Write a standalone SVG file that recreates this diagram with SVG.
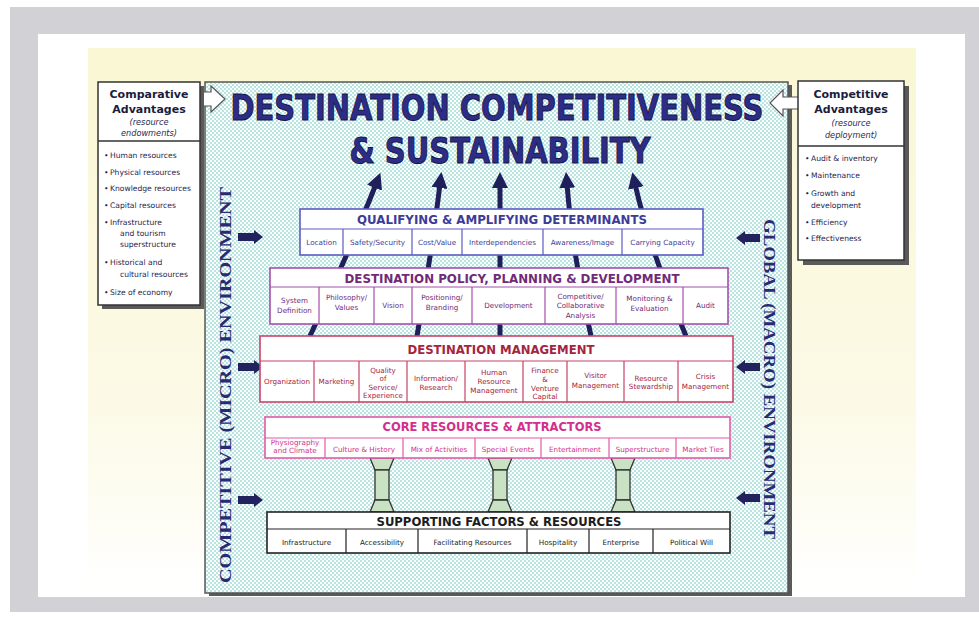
<svg xmlns="http://www.w3.org/2000/svg" width="979" height="634" viewBox="0 0 979 634">
  <defs>
    <pattern id="dots" width="4" height="4" patternUnits="userSpaceOnUse">
      <rect width="4" height="4" fill="#fbfefe"/>
      <rect x="0" y="0" width="2" height="2" fill="#b9e4e0"/>
      <rect x="2" y="2" width="2" height="2" fill="#b9e4e0"/>
    </pattern>
    <linearGradient id="panel" x1="0" y1="0" x2="0" y2="1">
      <stop offset="0" stop-color="#faf7d4"/>
      <stop offset="0.65" stop-color="#fcfae6"/>
      <stop offset="1" stop-color="#ffffff"/>
    </linearGradient>
    <marker id="head" markerUnits="userSpaceOnUse" viewBox="0 0 16 16" markerWidth="16" markerHeight="16" refX="4" refY="8" orient="auto">
      <path d="M0,0 L16,8 L0,16 z" fill="#1f1f5c"/>
    </marker>
    <g id="pillar">
      <path d="M-12,0 L12,0 L7,12 L-7,12 z"/>
      <rect x="-7" y="12" width="14" height="30"/>
      <path d="M-7,42 L7,42 L12,54 L-12,54 z"/>
    </g>
  </defs>
  <style>
    .cell { font-family: "DejaVu Sans", "Liberation Sans", sans-serif; font-size: 7.2px; text-anchor: middle; }
    .hdr { font-family: "DejaVu Sans", "Liberation Sans", sans-serif; font-weight: bold; font-size: 12px; text-anchor: middle; }
    .q { fill: #3c3c98; } .qs { stroke: #5c5cc4; }
    .p { fill: #702a78; } .ps { stroke: #a450ac; }
    .m { fill: #a5243e; } .ms { stroke: #c84468; }
    .c { fill: #d2308c; } .cs { stroke: #e25aaa; }
    .s { fill: #1c1c1c; } .ss { stroke: #222222; }
    .box { fill: #ffffff; stroke-width: 1.6; }
    .div { stroke-width: 1.2; fill: none; }
    .fan { fill: none; stroke: #1f1f5c; stroke-width: 5; marker-end: url(#head); }
    .side { fill: #22225e; }
    .vtxt { font-family: "Liberation Serif", serif; font-weight: bold; font-size: 16px; fill: #2a2a72; text-anchor: middle; }
    .stitle { font-family: "DejaVu Sans", "Liberation Sans", sans-serif; font-weight: bold; font-size: 11px; fill: #1c1c3c; text-anchor: middle; }
    .sital { font-family: "DejaVu Sans", "Liberation Sans", sans-serif; font-style: italic; font-size: 8.2px; fill: #2a2a50; text-anchor: middle; }
    .bul { font-family: "DejaVu Sans", "Liberation Sans", sans-serif; font-size: 7.6px; fill: #24244e; }
    .pil { fill: #c9e2c3; stroke: #333333; stroke-width: 1.3; }
    .ttl { font-family: "DejaVu Sans", "Liberation Sans", sans-serif; font-weight: bold; font-size: 29px; fill: #2d2d88; stroke: #16164a; stroke-width: 0.8; text-anchor: middle; }
  </style>

  <!-- page frame -->
  <rect x="0" y="0" width="979" height="634" fill="#ffffff"/>
  <rect x="10" y="7" width="969" height="605" fill="#d2d2d6"/>
  <rect x="38" y="34" width="927" height="563" fill="#ffffff"/>
  <rect x="88" y="48" width="828" height="549" fill="url(#panel)"/>

  <!-- main field -->
  <g id="field">
    <rect x="209" y="85" width="583" height="511" fill="#5a5a5a"/>
    <rect x="205" y="82" width="583" height="511" fill="url(#dots)" stroke="#555555" stroke-width="1.5"/>
  </g>

  <!-- connectors: fan of arrows rising to the title -->
  <g id="connectors">
    <path class="fan" d="M310,336 Q350,250 376,184"/>
    <path class="fan" d="M417,336 Q432,250 440,184"/>
    <path class="fan" d="M500,336 L500,184"/>
    <path class="fan" d="M591,336 Q572,250 567,184"/>
    <path class="fan" d="M686,336 Q650,250 635,184"/>
    <!-- environment arrows -->
    <path class="side" d="M238,233 L254,233 L254,230 L263,237 L254,244 L254,241 L238,241 z"/>
    <path class="side" d="M238,363 L254,363 L254,360 L263,367 L254,374 L254,371 L238,371 z"/>
    <path class="side" d="M238,496 L254,496 L254,493 L263,500 L254,507 L254,504 L238,504 z"/>
    <path class="side" d="M760,234 L745,234 L745,231 L736,238 L745,245 L745,242 L760,242 z"/>
    <path class="side" d="M760,363 L745,363 L745,360 L736,367 L745,374 L745,371 L760,371 z"/>
    <path class="side" d="M760,494 L745,494 L745,491 L736,498 L745,505 L745,502 L760,502 z"/>
    <!-- pillars between supporting factors and core resources -->
    <use href="#pillar" class="pil" x="382" y="458"/>
    <use href="#pillar" class="pil" x="500" y="458"/>
    <use href="#pillar" class="pil" x="623" y="458"/>
    <!-- hollow arrows from the side boxes -->
    <path d="M193,92 L211,92 L211,86 L225,99 L211,112 L211,106 L193,106 z" fill="#ffffff" stroke="#555555" stroke-width="1.2"/>
    <path d="M800,97 L783,97 L783,90 L770,103 L783,116 L783,109 L800,109 z" fill="#ffffff" stroke="#555555" stroke-width="1.2"/>
  </g>

  <!-- title -->
  <g id="title">
    <text class="ttl" transform="translate(497,120) scale(1,1.25)">DESTINATION COMPETITIVENESS</text>
    <text class="ttl" transform="translate(500,163) scale(1,1.25)">&amp; SUSTAINABILITY</text>
  </g>

  <!-- environment labels -->
  <g id="env-left">
    <text class="vtxt" transform="translate(231,385) rotate(-90)" textLength="396" lengthAdjust="spacingAndGlyphs">COMPETITIVE (MICRO) ENVIRONMENT</text>
  </g>
  <g id="env-right">
    <text class="vtxt" transform="translate(764,379) rotate(90)" textLength="320" lengthAdjust="spacingAndGlyphs">GLOBAL (MACRO) ENVIRONMENT</text>
  </g>

  <!-- qualifying & amplifying determinants -->
  <g id="qualifying">
    <rect class="box qs" x="300" y="209" width="403" height="46"/>
    <path class="div qs" d="M300,229 H703 M343,229 V255 M412,229 V255 M462,229 V255 M543,229 V255 M622,229 V255"/>
    <text class="hdr q" x="502" y="224" textLength="290" lengthAdjust="spacingAndGlyphs">QUALIFYING &amp; AMPLIFYING DETERMINANTS</text>
    <g class="cell q">
      <text x="321.5" y="245">Location</text>
      <text x="377.5" y="245">Safety/Security</text>
      <text x="437" y="245">Cost/Value</text>
      <text x="502.5" y="245">Interdependencies</text>
      <text x="582.5" y="245">Awareness/Image</text>
      <text x="662.5" y="245">Carrying Capacity</text>
    </g>
  </g>

  <!-- destination policy, planning & development -->
  <g id="policy">
    <rect class="box ps" x="270" y="268" width="458" height="56"/>
    <path class="div ps" d="M270,287 H728 M319,287 V324 M374,287 V324 M412,287 V324 M472,287 V324 M545,287 V324 M616,287 V324 M683,287 V324"/>
    <text class="hdr p" x="512" y="283" textLength="335" lengthAdjust="spacingAndGlyphs">DESTINATION POLICY, PLANNING &amp; DEVELOPMENT</text>
    <g class="cell p">
      <text x="294.5" y="303">System</text>
      <text x="294.5" y="313">Definition</text>
      <text x="346.5" y="300">Philosophy/</text>
      <text x="346.5" y="310">Values</text>
      <text x="393" y="308">Vision</text>
      <text x="442" y="300">Positioning/</text>
      <text x="442" y="310">Branding</text>
      <text x="508.5" y="308">Development</text>
      <text x="580.5" y="298.5">Competitive/</text>
      <text x="580.5" y="308">Collaborative</text>
      <text x="580.5" y="317.5">Analysis</text>
      <text x="649.5" y="301">Monitoring &amp;</text>
      <text x="649.5" y="311">Evaluation</text>
      <text x="705.5" y="308">Audit</text>
    </g>
  </g>

  <!-- destination management -->
  <g id="management">
    <rect class="box ms" x="260" y="336" width="473" height="66"/>
    <path class="div ms" d="M260,361 H733 M314,361 V402 M359,361 V402 M407,361 V402 M465,361 V402 M523,361 V402 M567,361 V402 M624,361 V402 M678,361 V402"/>
    <text class="hdr m" x="501" y="354" textLength="187" lengthAdjust="spacingAndGlyphs">DESTINATION MANAGEMENT</text>
    <g class="cell m">
      <text x="287" y="384">Organization</text>
      <text x="336.5" y="384">Marketing</text>
      <text x="383" y="372.5">Quality</text>
      <text x="383" y="381">of</text>
      <text x="383" y="389.5">Service/</text>
      <text x="383" y="398">Experience</text>
      <text x="436" y="381">Information/</text>
      <text x="436" y="390">Research</text>
      <text x="494" y="375">Human</text>
      <text x="494" y="384">Resource</text>
      <text x="494" y="393">Management</text>
      <text x="545" y="372.5">Finance</text>
      <text x="545" y="381.5">&amp;</text>
      <text x="545" y="390.5">Venture</text>
      <text x="545" y="399">Capital</text>
      <text x="595.5" y="377.5">Visitor</text>
      <text x="595.5" y="387.5">Management</text>
      <text x="651" y="380.5">Resource</text>
      <text x="651" y="388.5">Stewardship</text>
      <text x="705.5" y="379">Crisis</text>
      <text x="705.5" y="389">Management</text>
    </g>
  </g>

  <!-- core resources & attractors -->
  <g id="core">
    <rect class="box cs" x="265" y="417" width="465" height="41"/>
    <path class="div cs" d="M265,438 H730 M325,438 V458 M403,438 V458 M475,438 V458 M541,438 V458 M609,438 V458 M676,438 V458"/>
    <text class="hdr c" x="492" y="431" textLength="219" lengthAdjust="spacingAndGlyphs">CORE RESOURCES &amp; ATTRACTORS</text>
    <g class="cell c">
      <text x="295" y="445">Physiography</text>
      <text x="295" y="453">and Climate</text>
      <text x="364" y="451.5">Culture &amp; History</text>
      <text x="439" y="451.5">Mix of Activities</text>
      <text x="508" y="451.5">Special Events</text>
      <text x="575" y="451.5">Entertainment</text>
      <text x="642.5" y="451.5">Superstructure</text>
      <text x="703" y="451.5">Market Ties</text>
    </g>
  </g>

  <!-- supporting factors & resources -->
  <g id="supporting">
    <rect class="box ss" x="267" y="512" width="463" height="41" stroke-width="2"/>
    <path class="div ss" d="M267,529 H730 M346,529 V553 M418,529 V553 M527,529 V553 M589,529 V553 M653,529 V553"/>
    <text class="hdr s" x="499" y="526" textLength="245" lengthAdjust="spacingAndGlyphs">SUPPORTING FACTORS &amp; RESOURCES</text>
    <g class="cell s">
      <text x="306.5" y="544.5">Infrastructure</text>
      <text x="382" y="544.5">Accessibility</text>
      <text x="472.5" y="544.5">Facilitating Resources</text>
      <text x="558" y="544.5">Hospitality</text>
      <text x="621" y="544.5">Enterprise</text>
      <text x="691.5" y="544.5">Political Will</text>
    </g>
  </g>

  <!-- comparative advantages -->
  <g id="comparative">
    <rect x="102" y="86" width="102" height="223" fill="#5a5a5a"/>
    <rect x="98" y="82" width="102" height="223" fill="#ffffff" stroke="#333333" stroke-width="1.5"/>
    <line x1="98" y1="141" x2="200" y2="141" stroke="#333333" stroke-width="1.3"/>
    <text class="stitle" x="149" y="98">Comparative</text>
    <text class="stitle" x="149" y="113">Advantages</text>
    <text class="sital" x="149" y="125">(resource</text>
    <text class="sital" x="149" y="136">endowments)</text>
    <g class="bul">
      <text x="104" y="158">•</text><text x="110" y="158">Human resources</text>
      <text x="104" y="175">•</text><text x="110" y="175">Physical resources</text>
      <text x="104" y="191">•</text><text x="110" y="191">Knowledge resources</text>
      <text x="104" y="208">•</text><text x="110" y="208">Capital resources</text>
      <text x="104" y="225">•</text><text x="110" y="225">Infrastructure</text>
      <text x="120" y="236">and tourism</text>
      <text x="120" y="247">superstructure</text>
      <text x="104" y="265">•</text><text x="110" y="265">Historical and</text>
      <text x="120" y="277">cultural resources</text>
      <text x="104" y="295">•</text><text x="110" y="295">Size of economy</text>
    </g>
  </g>

  <!-- competitive advantages -->
  <g id="competitive">
    <rect x="803" y="86" width="106" height="179" fill="#5a5a5a"/>
    <rect x="798" y="81" width="106" height="179" fill="#ffffff" stroke="#333333" stroke-width="1.5"/>
    <line x1="798" y1="146" x2="904" y2="146" stroke="#333333" stroke-width="1.3"/>
    <text class="stitle" x="851" y="98">Competitive</text>
    <text class="stitle" x="851" y="113">Advantages</text>
    <text class="sital" x="851" y="126">(resource</text>
    <text class="sital" x="851" y="138">deployment)</text>
    <g class="bul">
      <text x="805" y="161">•</text><text x="811" y="161">Audit &amp; inventory</text>
      <text x="805" y="178">•</text><text x="811" y="178">Maintenance</text>
      <text x="805" y="196">•</text><text x="811" y="196">Growth and</text>
      <text x="811" y="208">development</text>
      <text x="805" y="225">•</text><text x="811" y="225">Efficiency</text>
      <text x="805" y="241">•</text><text x="811" y="241">Effectiveness</text>
    </g>
  </g>
</svg>
